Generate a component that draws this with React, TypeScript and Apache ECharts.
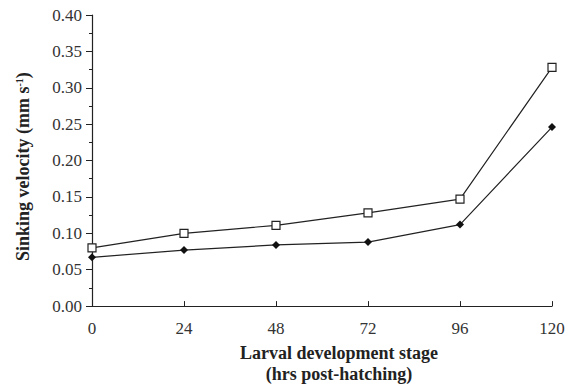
import React, { useEffect, useRef } from "react";
import * as echarts from "echarts";

const hours = [0, 24, 48, 72, 96, 120];
const openSquares = [0.08, 0.1, 0.111, 0.128, 0.147, 0.328];
const filledDiamonds = [0.067, 0.077, 0.084, 0.088, 0.112, 0.246];
const xTicks = [0, 24, 48, 72, 96, 120];
const yTicks = ["0.00", "0.05", "0.10", "0.15", "0.20", "0.25", "0.30", "0.35", "0.40"];

const FONT = "'Liberation Serif', 'Times New Roman', serif";

export default function App() {
  const ref = useRef<HTMLDivElement>(null);
  useEffect(() => {
    if (!ref.current) return;
    const chart = echarts.init(ref.current, undefined, { renderer: "svg" });
    chart.setOption({
      animation: false,
      backgroundColor: "#fff",
      grid: { left: 92, right: 24, top: 15, bottom: 76, containLabel: false },
      xAxis: {
        type: "value",
        min: 0,
        max: 120,
        interval: 24,
        name: "Larval development stage\n(hrs post-hatching)",
        nameLocation: "middle",
        nameGap: 28,
        nameTextStyle: {
          fontFamily: FONT,
          fontWeight: "bold",
          fontSize: 18,
          color: "#222",
          lineHeight: 21,
          padding: [0, 0, 0, 34],
        },
        axisLine: { show: true, lineStyle: { color: "#222", width: 1.2 } },
        axisTick: { show: true, inside: true, length: 5, lineStyle: { color: "#222" } },
        axisLabel: {
          fontFamily: FONT,
          fontSize: 17,
          color: "#333",
          margin: 14,
          formatter: (v: number) => (xTicks.includes(v) ? String(v) : ""),
        },
        splitLine: { show: false },
      },
      yAxis: {
        type: "value",
        min: 0,
        max: 0.4,
        interval: 0.05,
        name: "{a|Sinking velocity (mm s}{s|-1}{a|)}",
        nameLocation: "middle",
        nameGap: 60,
        nameTextStyle: {
          color: "#222",
          padding: [0, 12, 0, 0],
          rich: {
            a: { fontFamily: FONT, fontWeight: "bold", fontSize: 18, color: "#222" },
            s: { fontFamily: FONT, fontWeight: "bold", fontSize: 10, color: "#222", verticalAlign: "top" },
          },
        },
        axisLine: { show: true, lineStyle: { color: "#222", width: 1.2 } },
        axisTick: { show: true, inside: false, length: 6, lineStyle: { color: "#222" } },
        minorTick: { show: true, splitNumber: 2, length: 3, lineStyle: { color: "#222" } },
        axisLabel: {
          fontFamily: FONT,
          fontSize: 17,
          color: "#333",
          margin: 10,
          formatter: (v: number) => {
            const s = v.toFixed(2);
            return yTicks.includes(s) ? s : "";
          },
        },
        splitLine: { show: false },
      },
      series: [
        {
          type: "line",
          data: hours.map((h, i) => [h, openSquares[i]]),
          symbol: "rect",
          symbolSize: 8,
          itemStyle: { color: "#fff", borderColor: "#222", borderWidth: 1.2 },
          lineStyle: { color: "#222", width: 1.2 },
          z: 3,
        },
        {
          type: "line",
          data: hours.map((h, i) => [h, filledDiamonds[i]]),
          symbol: "diamond",
          symbolSize: 8,
          itemStyle: { color: "#111", borderColor: "#111", borderWidth: 0 },
          lineStyle: { color: "#222", width: 1.2 },
          z: 2,
        },
      ],
    });
    return () => chart.dispose();
  }, []);
  return <div ref={ref} style={{ width: 576, height: 389, position: "absolute", left: 0, top: 0 }} />;
}
